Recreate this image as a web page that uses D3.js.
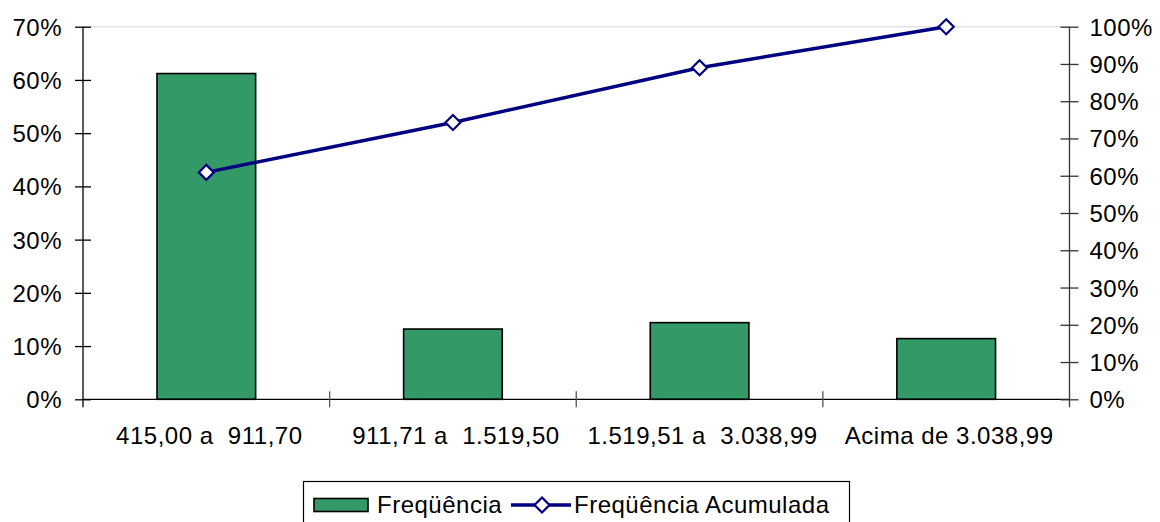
<!DOCTYPE html>
<html><head><meta charset="utf-8">
<script src="https://cdn.jsdelivr.net/npm/d3@7/dist/d3.min.js"></script>
<style>
html,body{margin:0;padding:0;background:#fff;}
svg text{font-family:"Liberation Sans",Arial,sans-serif;font-size:24px;letter-spacing:0.5px;fill:#000;white-space:pre;}
</style></head>
<body><svg id="c" width="1160" height="522"></svg>
<script>
const categories = ["415,00 a  911,70", "911,71 a  1.519,50", "1.519,51 a  3.038,99", "Acima de 3.038,99"];
const frequencia = [0.612, 0.132, 0.144, 0.114];
const acumulada = [0.609, 0.743, 0.890, 1.000];
const leftTicks = [0, 0.1, 0.2, 0.3, 0.4, 0.5, 0.6, 0.7];
const rightTicks = [0, 0.1, 0.2, 0.3, 0.4, 0.5, 0.6, 0.7, 0.8, 0.9, 1.0];
const legendLabels = ["Freqüência", "Freqüência Acumulada"];

const svg = d3.select("#c");
const L = 83, R = 1069.5, T = 26.7, B = 399.3;

const x = d3.scaleBand().domain(categories).range([L, R]).paddingInner(0.6).paddingOuter(0.3);
const yL = d3.scaleLinear().domain([0, 0.7]).range([B, T]);
const yR = d3.scaleLinear().domain([0, 1]).range([B, T]);
const fmt = d3.format(".0%");

// top plot border (faint)
svg.append("line").attr("x1", L).attr("x2", R).attr("y1", T).attr("y2", T)
  .attr("stroke", "#e4e4e4").attr("stroke-width", 1.5);

// bars
svg.append("g").selectAll("rect").data(frequencia).join("rect")
  .attr("x", (d, i) => x(categories[i]))
  .attr("width", x.bandwidth())
  .attr("y", d => yL(d))
  .attr("height", d => yL(0) - yL(d))
  .attr("fill", "#339966").attr("stroke", "#000").attr("stroke-width", 1.6);

// x axis baseline & category boundary ticks
svg.append("line").attr("x1", L).attr("x2", R).attr("y1", B).attr("y2", B).attr("stroke", "#000").attr("stroke-width", 1.3);
const step = x.step();
const bounds = d3.range(1, categories.length).map(i => L + i * step);
svg.append("g").selectAll("line").data(bounds).join("line")
  .attr("x1", d => d).attr("x2", d => d).attr("y1", B - 8).attr("y2", B + 8)
  .attr("stroke", "#555").attr("stroke-width", 1.3);

// x labels
svg.append("g").selectAll("text").data(categories).join("text")
  .attr("x", d => x(d) + x.bandwidth() / 2 + 3)
  .attr("y", 444)
  .attr("text-anchor", "middle")
  .text(d => d);

// left axis
const gL = svg.append("g").attr("transform", `translate(${L},0)`)
  .call(d3.axisLeft(yL).tickValues(leftTicks).tickFormat(fmt).tickSizeInner(8).tickSizeOuter(0).tickPadding(13));
gL.select(".domain").remove();
gL.selectAll(".tick line").attr("x1", 8).attr("stroke", "#000").attr("stroke-width", 1.3);
gL.selectAll(".tick text").attr("dy", null).attr("y", 8.5);
gL.attr("font-size", null).attr("font-family", null);
svg.append("line").attr("x1", L).attr("x2", L).attr("y1", T).attr("y2", B + 8).attr("stroke", "#000").attr("stroke-width", 1.3);

// right axis
const gR = svg.append("g").attr("transform", `translate(${R},0)`)
  .call(d3.axisRight(yR).tickValues(rightTicks).tickFormat(fmt).tickSizeInner(9).tickSizeOuter(0).tickPadding(11));
gR.select(".domain").remove();
gR.selectAll(".tick line").attr("x1", -9).attr("stroke", "#333").attr("stroke-width", 1.3);
gR.selectAll(".tick text").attr("dy", null).attr("y", 8.5);
gR.attr("font-size", null).attr("font-family", null);
svg.append("line").attr("x1", R).attr("x2", R).attr("y1", T).attr("y2", B + 8).attr("stroke", "#333").attr("stroke-width", 1.3);

// cumulative line
const cx = (d, i) => x(categories[i]) + x.bandwidth() / 2;
svg.append("path").datum(acumulada)
  .attr("d", d3.line().x(cx).y(d => yR(d)))
  .attr("fill", "none").attr("stroke", "#000080").attr("stroke-width", 3.5);
const diamond = (px, py, s) => `M${px},${py - s}L${px + s},${py}L${px},${py + s}L${px - s},${py}Z`;
svg.append("g").selectAll("path").data(acumulada).join("path")
  .attr("d", (d, i) => diamond(cx(d, i), yR(d), 7.5))
  .attr("fill", "#fff").attr("stroke", "#000080").attr("stroke-width", 2.2);

// legend
const lg = svg.append("g");
lg.append("rect").attr("x", 303.5).attr("y", 481.5).attr("width", 546).attr("height", 42)
  .attr("fill", "#fff").attr("stroke", "#000").attr("stroke-width", 1.2);
lg.append("rect").attr("x", 314).attr("y", 498.5).attr("width", 54).attr("height", 13)
  .attr("fill", "#339966").attr("stroke", "#000").attr("stroke-width", 1.6);
lg.append("text").attr("x", 377).attr("y", 513).text(legendLabels[0]);
lg.append("line").attr("x1", 511).attr("x2", 571).attr("y1", 505).attr("y2", 505)
  .attr("stroke", "#000080").attr("stroke-width", 3.5);
lg.append("path").attr("d", diamond(542, 505, 7.5)).attr("fill", "#fff").attr("stroke", "#000080").attr("stroke-width", 2.2);
lg.append("text").attr("x", 574).attr("y", 513).attr("letter-spacing", "0.7px").text(legendLabels[1]);
</script>
</body></html>
